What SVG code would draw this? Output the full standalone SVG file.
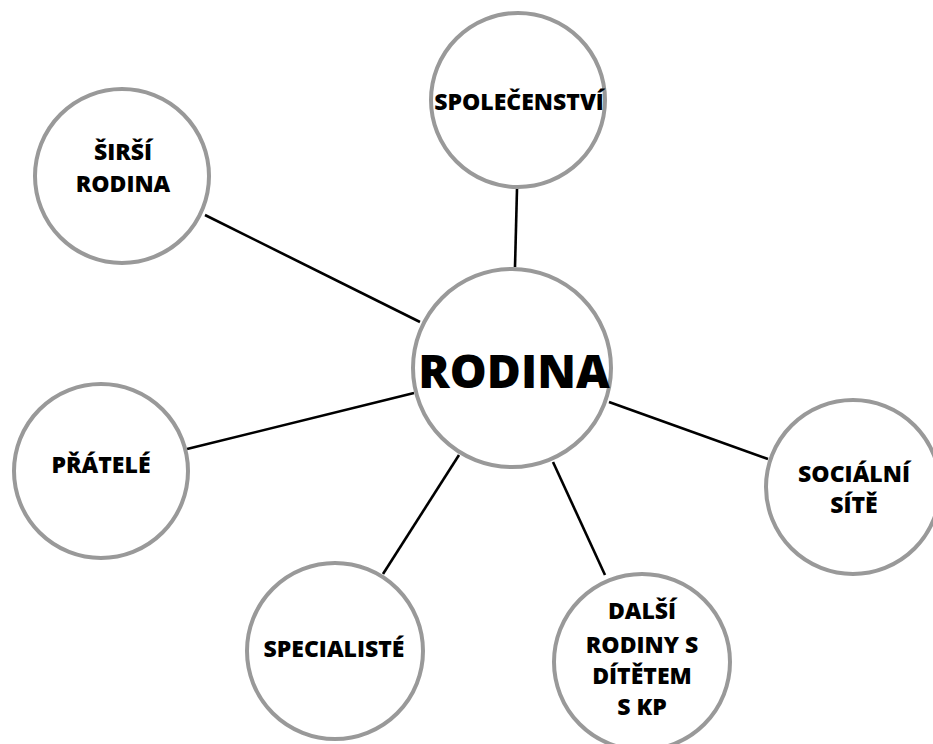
<svg xmlns="http://www.w3.org/2000/svg" width="933" height="744" viewBox="0 0 933 744">
<style>
.c{fill:#fff;stroke:#999;stroke-width:4}
.t{font-family:"Open Sans","Liberation Sans",sans-serif;font-weight:800;font-size:23px;fill:#000;text-anchor:middle}
.l{stroke:#000;stroke-width:2.6;fill:none}
</style>
<rect width="933" height="744" fill="#fff"/>
<g id="connectors">
<line class="l" x1="205" y1="215" x2="420" y2="322"/>
<line class="l" x1="517" y1="189" x2="515" y2="267"/>
<line class="l" x1="187" y1="449" x2="414" y2="393"/>
<line class="l" x1="609" y1="402" x2="768" y2="459"/>
<line class="l" x1="459" y1="455" x2="383" y2="574"/>
<line class="l" x1="553" y1="462" x2="605" y2="575"/>
</g>
<g id="rodina"><circle class="c" cx="512" cy="368" r="99"/><text class="t" x="514" y="388" style="font-size:46.5px">RODINA</text></g>
<g id="spolecenstvi"><circle class="c" cx="518" cy="100" r="87"/><text class="t" x="519" y="110">SPOLEČENSTVÍ</text></g>
<g id="sirsi-rodina"><circle class="c" cx="122" cy="176" r="87"/><text class="t" x="123" y="160">ŠIRŠÍ</text><text class="t" x="123" y="192">RODINA</text></g>
<g id="pratele"><circle class="c" cx="101" cy="471" r="87"/><text class="t" x="101" y="473">PŘÁTELÉ</text></g>
<g id="specialiste"><circle class="c" cx="335" cy="651" r="88"/><text class="t" x="334" y="657">SPECIALISTÉ</text></g>
<g id="dalsi-rodiny"><circle class="c" cx="642" cy="662" r="88"/><text class="t" x="642" y="619">DALŠÍ</text><text class="t" x="642" y="653">RODINY S</text><text class="t" x="642" y="684">DÍTĚTEM</text><text class="t" x="642" y="715">S KP</text></g>
<g id="socialni-site"><circle class="c" cx="853" cy="487" r="87"/><text class="t" x="854" y="482">SOCIÁLNÍ</text><text class="t" x="854" y="513">SÍTĚ</text></g>
</svg>
